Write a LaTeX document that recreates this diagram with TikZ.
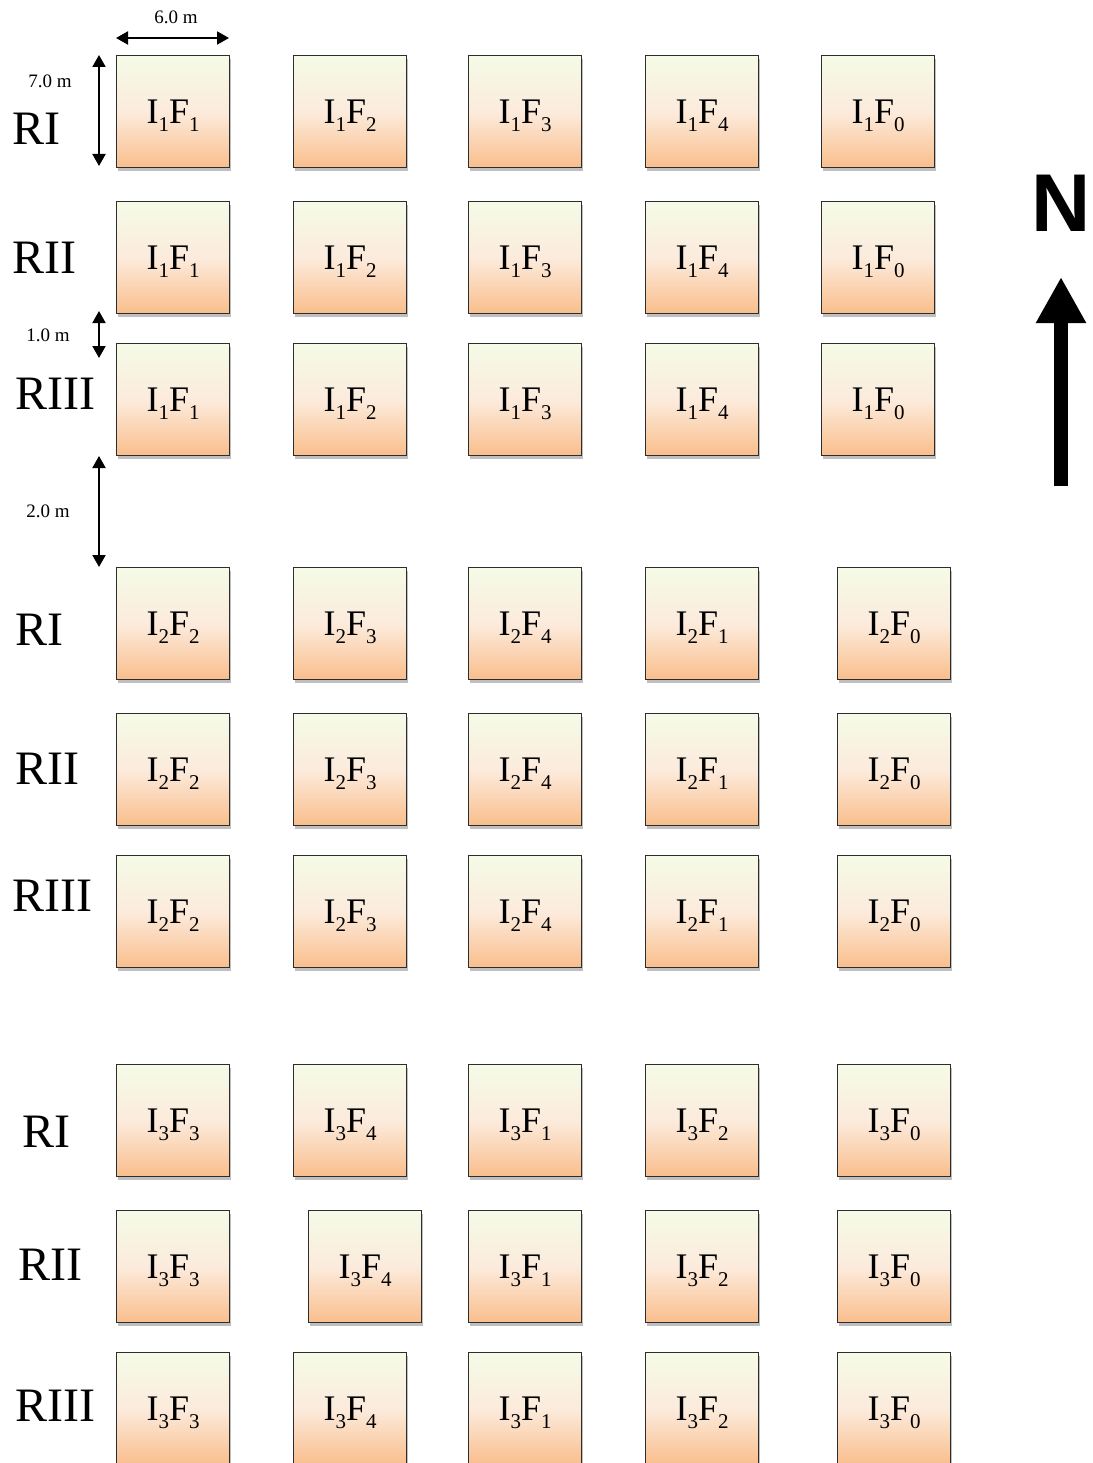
\documentclass[tikz,border=0pt]{standalone}
\usepackage{fontspec}
\setmainfont{Liberation Serif}
\newfontfamily\northfont{Liberation Sans}
\usetikzlibrary{arrows.meta,shadows}
\definecolor{plotTop}{RGB}{244,251,230}
\definecolor{plotMid}{RGB}{252,235,221}
\definecolor{plotBot}{RGB}{249,190,140}
\definecolor{plotEdge}{RGB}{45,45,45}
\newcommand{\plotlab}[2]{I\raisebox{-8pt}{\fontsize{21}{21}\selectfont #1}F\raisebox{-8pt}{\fontsize{21}{21}\selectfont #2}}

\begin{document}
\begin{tikzpicture}[x=1pt, y=-1pt,
    plot/.style={draw=plotEdge, line width=1.4pt, top color=plotTop, bottom color=plotBot, middle color=plotMid,
      minimum width=113pt, minimum height=112pt, anchor=north west, inner sep=0pt,
      text height=24pt, text depth=0pt, font=\fontsize{36}{36}\selectfont,
      drop shadow={shadow xshift=1.5pt, shadow yshift=-3pt, opacity=0.25, fill=black}},
    rep/.style={anchor=base west, inner sep=0pt, font=\fontsize{48}{48}\selectfont},
    dim/.style={line width=2pt, {Triangle[length=12pt,width=13pt]}-{Triangle[length=12pt,width=13pt]}},
    dimlab/.style={inner sep=0pt, font=\fontsize{19}{19}\selectfont}]
  \useasboundingbox (0,0) rectangle (1092,1463);

  \foreach \row/\yy/\rlab/\lx/\ly in {1/55/RI/12/145, 2/201/RII/12/273, 3/343/RIII/15/409} {
    \node[rep] (rep1\row) at (\lx,\ly) {\rlab};
    \foreach \col/\xx/\ff in {1/116/1, 2/293/2, 3/468/3, 4/645/4, 5/821/0}
      \node[plot] (p1\row\col) at (\xx,\yy) {\plotlab{1}{\ff}};
  }
  \foreach \row/\yy/\rlab/\lx/\ly in {1/567/RI/15/645, 2/713/RII/15/784, 3/855/RIII/12/911} {
    \node[rep] (rep2\row) at (\lx,\ly) {\rlab};
    \foreach \col/\xx/\ff in {1/116/2, 2/293/3, 3/468/4, 4/645/1, 5/837/0}
      \node[plot] (p2\row\col) at (\xx,\yy) {\plotlab{2}{\ff}};
  }
  \foreach \row/\yy/\rlab/\lx/\ly/\xb in {1/1064/RI/22/1147/293, 2/1210/RII/18/1280/308, 3/1352/RIII/15/1421/293} {
    \node[rep] (rep3\row) at (\lx,\ly) {\rlab};
    \foreach \col/\xx/\ff in {1/116/3, 2/\xb/4, 3/468/1, 4/645/2, 5/837/0}
      \node[plot] (p3\row\col) at (\xx,\yy) {\plotlab{3}{\ff}};
  }

  \coordinate (wl) at (116,38);
  \coordinate (wr) at (229,38);
  \draw[dim] (wl) -- (wr);
  \node[dimlab] (wlab) at (176,17) {6.0 m};
  \coordinate (lt) at (99,55);
  \coordinate (lb) at (99,166);
  \draw[dim] (lt) -- (lb);
  \node[dimlab] (llab) at (50,81) {7.0 m};
  \coordinate (gt) at (99,311);
  \coordinate (gb) at (99,358);
  \draw[dim] (gt) -- (gb);
  \node[dimlab] (glab) at (48,335) {1.0 m};
  \coordinate (bt) at (99,456);
  \coordinate (bb) at (99,567);
  \draw[dim] (bt) -- (bb);
  \node[dimlab] (blab) at (48,511) {2.0 m};

  \node[anchor=base, inner sep=0pt, font=\northfont\bfseries\fontsize{82}{82}\selectfont] (north) at (1061,232) {N};
  \coordinate (ntail) at (1061,486);
  \coordinate (nhead) at (1061,277);
  \draw[line width=14pt, -{Triangle[length=46pt,width=47pt]}] (ntail) -- (nhead);
\end{tikzpicture}
\end{document}
